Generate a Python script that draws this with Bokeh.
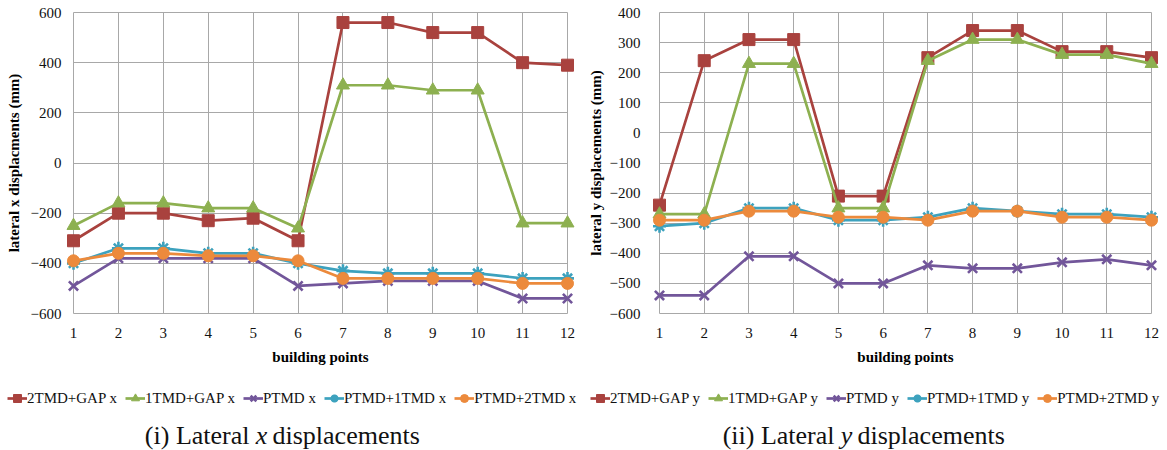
from bokeh.plotting import figure
from bokeh.models import Range1d, FixedTicker, Legend, LegendItem, Label, Grid
from bokeh.layouts import row, column
from bokeh.embed import file_html
from bokeh.resources import INLINE

# ---------------- data ----------------
points = list(range(1, 13))
series_names = ["2TMD+GAP", "1TMD+GAP", "PTMD", "PTMD+1TMD", "PTMD+2TMD"]

x_2tmd_gap = [-310, -200, -200, -230, -220, -310, 560, 560, 520, 520, 400, 390]
x_1tmd_gap = [-250, -160, -160, -180, -180, -260, 310, 310, 290, 290, -240, -240]
x_ptmd = [-490, -380, -380, -380, -380, -490, -480, -470, -470, -470, -540, -540]
x_ptmd_1tmd = [-400, -340, -340, -360, -360, -400, -430, -440, -440, -440, -460, -460]
x_ptmd_2tmd = [-390, -360, -360, -370, -370, -390, -460, -460, -460, -460, -480, -480]

y_2tmd_gap = [-240, 240, 310, 310, -210, -210, 250, 340, 340, 270, 270, 250]
y_1tmd_gap = [-270, -270, 230, 230, -250, -250, 240, 310, 310, 260, 260, 230]
y_ptmd = [-540, -540, -410, -410, -500, -500, -440, -450, -450, -430, -420, -440]
y_ptmd_1tmd = [-310, -300, -250, -250, -290, -290, -280, -250, -260, -270, -270, -280]
y_ptmd_2tmd = [-290, -290, -260, -260, -280, -280, -290, -260, -260, -280, -280, -290]

x_ticks = [-600, -400, -200, 0, 200, 400, 600]
y_ticks = [-600, -500, -400, -300, -200, -100, 0, 100, 200, 300, 400]

# ---------------- style ----------------
COLORS = ["#A9423E", "#8DB050", "#72569A", "#3DA2BE", "#EC8A3C"]
MARKERS = ["square", "triangle", "x", "asterisk", "circle"]
SIZES = [12, 13, 13, 13, 12]
SERIF = "Liberation Serif"
GRID = "#A8A8A8"
MAIN_H = 374
LEG_H = 36
CAP_H = 450 - MAIN_H - LEG_H
TOP = 11
FRAME_H = 303
EDGE_PX = 8


def add_series(p, series, visible=True):
    pairs = []
    for vals, c, m, s in zip(series, COLORS, MARKERS, SIZES):
        l = p.line(points, vals, line_color=c, line_width=2.7, visible=visible)
        lw = 2.6 if m in ("x", "asterisk") else 1
        sc = p.scatter(points, vals, marker=m, size=s, fill_color=c,
                       line_color=c, line_width=lw, visible=visible)
        pairs.append((l, sc))
    return pairs


def make_panel(series, ylabel, yticks, width, border_left, ytick_standoff, ylabel_standoff):
    frame_w = width - border_left - EDGE_PX
    px_per_unit = (frame_w - 2 * EDGE_PX) / (len(points) - 1)
    xpad = EDGE_PX / px_per_unit
    ymin, ymax = yticks[0], yticks[-1]
    ypad = (ymax - ymin) / (FRAME_H - 2)

    p = figure(width=width, height=MAIN_H,
               x_range=Range1d(points[0] - xpad, points[-1] + xpad),
               y_range=Range1d(ymin - ypad, ymax + ypad),
               output_backend="svg", toolbar_location=None,
               min_border_left=border_left, min_border_right=EDGE_PX,
               min_border_top=TOP, min_border_bottom=MAIN_H - TOP - FRAME_H)
    p.outline_line_color = None
    p.background_fill_color = "white"
    p.border_fill_color = "white"

    p.xaxis.ticker = FixedTicker(ticks=points)
    p.yaxis.ticker = FixedTicker(ticks=yticks)
    for ax in (p.xaxis[0], p.yaxis[0]):
        ax.axis_line_color = None
        ax.major_tick_line_color = None
        ax.minor_tick_line_color = None
        ax.major_tick_out = 0
        ax.major_tick_in = 0
        ax.minor_tick_out = 0
        ax.minor_tick_in = 0
        ax.major_label_text_font = SERIF
        ax.major_label_text_font_size = "15px"
        ax.major_label_text_color = "#111111"
        ax.axis_label_text_font = SERIF
        ax.axis_label_text_font_size = "15px"
        ax.axis_label_text_font_style = "bold"
        ax.axis_label_text_color = "#000000"
    p.xaxis.axis_label = "building points"
    p.xaxis.major_label_standoff = 13
    p.xaxis.axis_label_standoff = 8
    p.yaxis.axis_label = ylabel
    p.yaxis.major_label_standoff = ytick_standoff
    p.yaxis.axis_label_standoff = ylabel_standoff

    p.xgrid.ticker = FixedTicker(ticks=points)
    p.ygrid.ticker = FixedTicker(ticks=yticks)
    for g in (p.xgrid[0], p.ygrid[0]):
        g.grid_line_color = GRID
        g.grid_line_width = 1
    if "cross_bounds" in Grid.properties():
        p.xgrid.cross_bounds = (ymin, ymax)
        p.ygrid.cross_bounds = (points[0], points[-1])

    add_series(p, series)
    return p


def make_legend(width, series, suffix, spacing):
    f = figure(width=width, height=LEG_H, x_range=Range1d(0, 1), y_range=Range1d(0, 1),
               output_backend="svg", toolbar_location=None,
               x_axis_location=None, y_axis_location=None, min_border=0)
    f.grid.visible = False
    f.outline_line_color = None
    pairs = add_series(f, series, visible=False)
    items = [LegendItem(label=f"{n} {suffix}", renderers=list(pr))
             for n, pr in zip(series_names, pairs)]
    legend = Legend(items=items, orientation="horizontal",
                    location=(7, 2),
                    glyph_width=20, glyph_height=20, label_height=20,
                    label_standoff=0, spacing=spacing, padding=0, margin=0,
                    border_line_color=None, background_fill_alpha=0,
                    inactive_fill_alpha=0,
                    label_text_font=SERIF, label_text_font_size="15px",
                    label_text_color="#111111")
    f.add_layout(legend)
    return f


def make_caption(width, before, italic, after, x_before, x_italic, x_after):
    c = figure(width=width, height=CAP_H, x_range=Range1d(0, width), y_range=Range1d(0, CAP_H),
               output_backend="svg", toolbar_location=None,
               x_axis_location=None, y_axis_location=None, min_border=0)
    c.grid.visible = False
    c.outline_line_color = None
    for t, x, st, al in ((before, x_before, "normal", "right"),
                         (italic, x_italic, "italic", "center"),
                         (after, x_after, "normal", "left")):
        c.add_layout(Label(x=x, y=15, x_units="screen", y_units="screen",
                           text=t, text_font=SERIF, text_font_size="26px",
                           text_font_style=st, text_align=al,
                           text_baseline="middle", text_color="#111111"))
    return c


sx = [x_2tmd_gap, x_1tmd_gap, x_ptmd, x_ptmd_1tmd, x_ptmd_2tmd]
sy = [y_2tmd_gap, y_1tmd_gap, y_ptmd, y_ptmd_1tmd, y_ptmd_2tmd]

left = make_panel(sx, "lateral x displacments (mm)", x_ticks, 583, 65, 4, 6)
right = make_panel(sy, "lateral y displacements (mm)", y_ticks, 584, 68, 11, 3)
leg_left = make_legend(583, sx, "x", 8)
leg_right = make_legend(584, sy, "y", 8)
cap_left = make_caption(583, "(i) Lateral", "x", "displacements", 249, 261, 272)
cap_right = make_caption(584, "(ii) Lateral", "y", "displacements",
                         834 - 583, 846 - 583, 857 - 583)

layout = column(row(left, right), row(leg_left, leg_right), row(cap_left, cap_right))
open("out.html", "w").write(file_html(layout, INLINE))
